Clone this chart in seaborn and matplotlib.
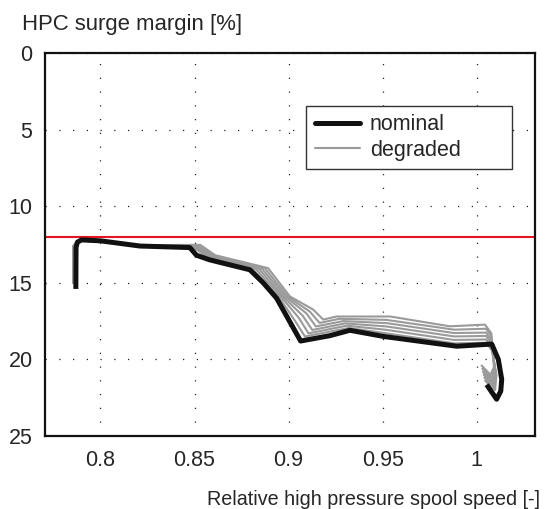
import matplotlib
matplotlib.use('Agg')
import matplotlib.pyplot as plt
import seaborn as sns
from matplotlib.lines import Line2D

# nominal engine (thick black)
nom_x = [0.7869, 0.7870, 0.7877, 0.7899, 0.8000, 0.8210, 0.8475, 0.8510, 0.8580,
         0.8794, 0.8865, 0.8936, 0.9064, 0.9220, 0.9326, 0.9504, 0.9894, 1.0080,
         1.0115, 1.0133, 1.0128, 1.0106, 1.0053]
nom_y = [15.4, 12.7, 12.35, 12.2, 12.26, 12.6, 12.7, 13.2, 13.5,
         14.15, 15.0, 16.0, 18.8, 18.45, 18.1, 18.5, 19.14, 19.0,
         20.0, 21.3, 22.07, 22.6, 21.65]

# degraded engines (grey), least to most degraded
deg1_x = [0.7856, 0.7857, 0.7885, 0.800, 0.821, 0.8485, 0.8585, 0.8810, 0.8950, 0.9035,
          0.9087, 0.932, 0.952, 0.988, 1.005, 1.0080, 1.0105, 1.0098, 1.0045]
deg1_y = [14.8, 12.6, 12.25, 12.3, 12.55, 12.62, 13.45, 14.12, 15.95, 17.5,
          18.5, 17.95, 18.3, 18.95, 18.92, 19.4, 21.0, 22.0, 21.4]
deg2_x = [0.7856, 0.7857, 0.7885, 0.800, 0.821, 0.8494, 0.8590, 0.8826, 0.8961, 0.9055,
          0.9106, 0.931, 0.952, 0.988, 1.005, 1.0080, 1.0102, 1.0093, 1.0041]
deg2_y = [14.85, 12.6, 12.25, 12.3, 12.55, 12.6, 13.4, 14.1, 15.93, 17.3,
          18.3, 17.8, 18.07, 18.73, 18.7, 19.2, 20.9, 21.8, 21.2]
deg3_x = [0.7855, 0.7856, 0.7885, 0.800, 0.821, 0.8503, 0.8595, 0.8842, 0.8972, 0.9075,
          0.9126, 0.930, 0.952, 0.988, 1.005, 1.0079, 1.0099, 1.0088, 1.0037]
deg3_y = [14.9, 12.6, 12.25, 12.3, 12.55, 12.58, 13.35, 14.08, 15.92, 17.15,
          18.08, 17.65, 17.85, 18.5, 18.47, 18.95, 20.8, 21.6, 21.0]
deg4_x = [0.7855, 0.7856, 0.7885, 0.800, 0.821, 0.8512, 0.8600, 0.8858, 0.8984, 0.9095,
          0.9145, 0.929, 0.952, 0.988, 1.005, 1.0079, 1.0097, 1.0083, 1.0033]
deg4_y = [14.95, 12.6, 12.25, 12.3, 12.55, 12.56, 13.3, 14.07, 15.91, 17.0,
          17.85, 17.5, 17.63, 18.28, 18.25, 18.75, 20.7, 21.4, 20.8]
deg5_x = [0.7854, 0.7855, 0.7885, 0.800, 0.821, 0.8521, 0.8605, 0.8874, 0.8995, 0.9113,
          0.9165, 0.927, 0.952, 0.988, 1.005, 1.0078, 1.0094, 1.0078, 1.0030]
deg5_y = [15.0, 12.6, 12.25, 12.3, 12.55, 12.54, 13.25, 14.05, 15.9, 16.88,
          17.62, 17.35, 17.42, 18.06, 18.0, 18.5, 20.6, 21.2, 20.6]
deg6_x = [0.7854, 0.7855, 0.7885, 0.800, 0.821, 0.8530, 0.8610, 0.8891, 0.9007, 0.9131,
          0.9184, 0.9255, 0.954, 0.9858, 1.0044, 1.0078, 1.0092, 1.0073, 1.0026]
deg6_y = [15.0, 12.6, 12.25, 12.3, 12.55, 12.52, 13.2, 14.04, 15.89, 16.75,
          17.4, 17.2, 17.2, 17.84, 17.73, 18.3, 20.5, 21.0, 20.4]

degraded = [(deg1_x, deg1_y), (deg2_x, deg2_y), (deg3_x, deg3_y),
            (deg4_x, deg4_y), (deg5_x, deg5_y), (deg6_x, deg6_y)]

surge_limit = 12.0
x_ticks = [0.8, 0.85, 0.9, 0.95, 1.0]
x_tick_labels = ['0.8', '0.85', '0.9', '0.95', '1']
y_ticks = [0, 5, 10, 15, 20, 25]

sns.set_style('white')
plt.rcParams['font.family'] = ['Liberation Sans', 'DejaVu Sans']
FS = 15.5

fig = plt.figure(figsize=(5.47, 5.09), dpi=100)
ax = fig.add_axes([45 / 547, 1 - 436 / 509, 490 / 547, 383 / 509])

grey = '#9a9a9a'
for dx, dy in degraded:
    sns.lineplot(x=dx, y=dy, ax=ax, color=grey, linewidth=1.5, sort=False,
                 estimator=None, solid_joinstyle='round')
sns.lineplot(x=nom_x, y=nom_y, ax=ax, color='#111111', linewidth=3.6, sort=False,
             estimator=None, solid_joinstyle='round', solid_capstyle='butt')

ax.axhline(surge_limit, color='#e8141e', linewidth=1.5, zorder=1)

ax.set_xlim(0.7705, 1.031)
ax.set_ylim(25, 0)
ax.set_xticks(x_ticks)
ax.set_xticklabels(x_tick_labels)
ax.set_yticks(y_ticks)
ax.tick_params(axis='x', length=0, pad=10, labelsize=FS)
ax.tick_params(axis='y', length=0, pad=9, labelsize=FS)
ax.grid(True, color='#222222', linewidth=0.9, linestyle=(0, (1, 10)))
ax.set_axisbelow(True)
for s in ax.spines.values():
    s.set_visible(True)
    s.set_color('#111111')
    s.set_linewidth(1.6)
ax.set_xlabel('')
ax.set_ylabel('')

handles = [Line2D([], [], color='#111111', linewidth=3.6),
           Line2D([], [], color=grey, linewidth=1.5)]
leg = ax.legend(handles, ['nominal', 'degraded'], loc='upper left',
                bbox_to_anchor=(0.533, 0.862, 0.42, 0.0), mode='expand',
                borderaxespad=0, fontsize=FS,
                fancybox=False, framealpha=1, edgecolor='#333333',
                handlelength=2.1, handletextpad=0.45, labelspacing=0.2,
                borderpad=0.4)
leg.get_frame().set_linewidth(1.0)

fig.text(22 / 547, 1 - 30 / 509, 'HPC surge margin [%]', fontsize=15.9,
         ha='left', va='baseline')
fig.text(540 / 547, 1 - 505 / 509, 'Relative high pressure spool speed [-]',
         fontsize=14.2, ha='right', va='baseline')

fig.savefig('out.png', dpi=100)
